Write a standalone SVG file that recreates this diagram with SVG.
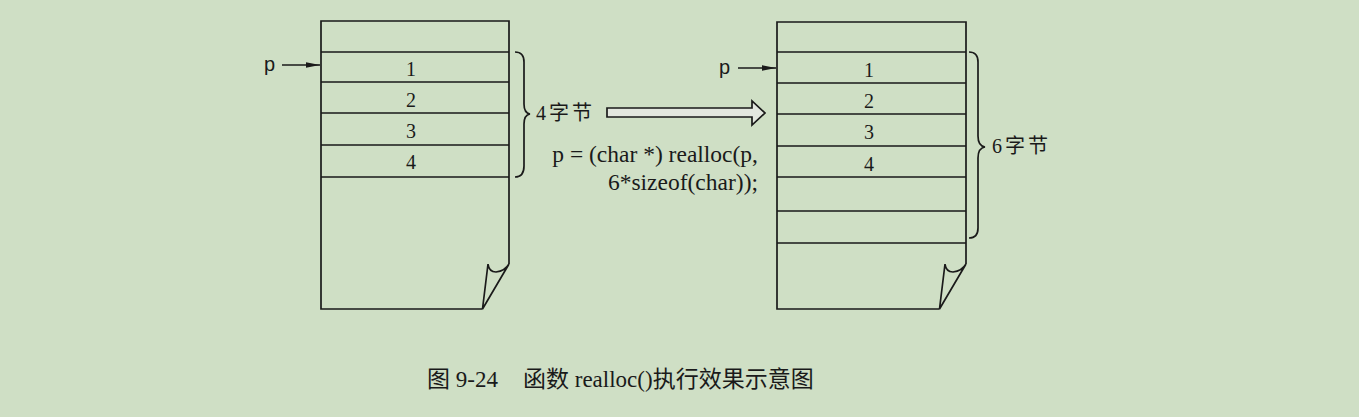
<svg xmlns="http://www.w3.org/2000/svg" width="1359" height="417" viewBox="0 0 1359 417">
<style>
.ln{stroke:#1a1a1a;stroke-width:1.7;fill:none}
.t{font-family:"Liberation Serif","Noto Sans CJK SC",serif;fill:#1a1a1a}
.n{font-size:20px;text-anchor:middle}
.ps{font-family:"Liberation Sans",sans-serif;font-size:20px;fill:#1a1a1a}
.cjk{font-family:"Liberation Serif","Noto Sans CJK SC",serif;fill:#1a1a1a}
</style>
<defs>
<marker id="ah" markerWidth="14" markerHeight="8" refX="14" refY="4" orient="auto" markerUnits="userSpaceOnUse">
<path d="M0,1.2 L14,4 L0,6.8 Z" fill="#1a1a1a"/>
</marker>
</defs>
<rect width="1359" height="417" fill="#cfdfc5"/>

<g id="left-memory">
<path class="ln" d="M509,264 L509,21 L321,21 L321,309 L482.5,309"/>
<path class="ln" d="M321,52 H509 M321,82 H509 M321,113 H509 M321,145 H509 M321,177 H509"/>
<path class="ln" d="M488,264 L482.5,309 L509,264 M488,264 Q489,272 496,272 Q505,271 509,264"/>
<text class="t n" x="411" y="76">1</text>
<text class="t n" x="411" y="107">2</text>
<text class="t n" x="411" y="138">3</text>
<text class="t n" x="411" y="169">4</text>
</g>

<g id="right-memory">
<path class="ln" d="M966,264 L966,22 L777,22 L777,309 L939.5,309"/>
<path class="ln" d="M777,52 H966 M777,83 H966 M777,114 H966 M777,146 H966 M777,177 H966 M777,211 H966 M777,243 H966"/>
<path class="ln" d="M945,264 L939.5,309 L966,264 M945,264 Q946,272 953,272 Q962,271 966,264"/>
<text class="t n" x="869" y="77">1</text>
<text class="t n" x="869" y="108">2</text>
<text class="t n" x="869" y="139">3</text>
<text class="t n" x="869" y="171">4</text>
</g>

<g id="connectors">
<line class="ln" x1="282" y1="65" x2="320" y2="65" marker-end="url(#ah)"/>
<line class="ln" x1="738" y1="68" x2="776" y2="68" marker-end="url(#ah)"/>
<path class="ln" d="M515,52 Q524,52 524,62 L524,104 Q524,113 530,114 Q524,115 524,124 L524,166 Q524,177 515,177"/>
<path class="ln" d="M969,52 Q978,52 978,62 L978,136 Q978,146 985,147 Q978,148 978,158 L978,228 Q978,238 969,238"/>
<path d="M607,108 L752,108 L752,101 L765,113 L752,125 L752,117 L607,117 Z" fill="#e3e7df" stroke="#1a1a1a" stroke-width="1.7"/>
</g>

<g id="labels">
<text class="ps" x="264" y="71">p</text>
<text class="ps" x="719" y="74">p</text>
<text class="cjk" x="536" y="120" font-size="20" letter-spacing="3">4字节</text>
<text class="cjk" x="992" y="153" font-size="20" letter-spacing="3">6字节</text>
<text class="t" x="758" y="162" font-size="23.5" text-anchor="end">p = (char *) realloc(p,</text>
<text class="t" x="758" y="190" font-size="23.5" text-anchor="end">6*sizeof(char));</text>
<text class="cjk" x="427" y="387" font-size="23">图 9-24</text>
<text class="cjk" x="523" y="387" font-size="23">函数 realloc()执行效果示意图</text>
</g>
</svg>
